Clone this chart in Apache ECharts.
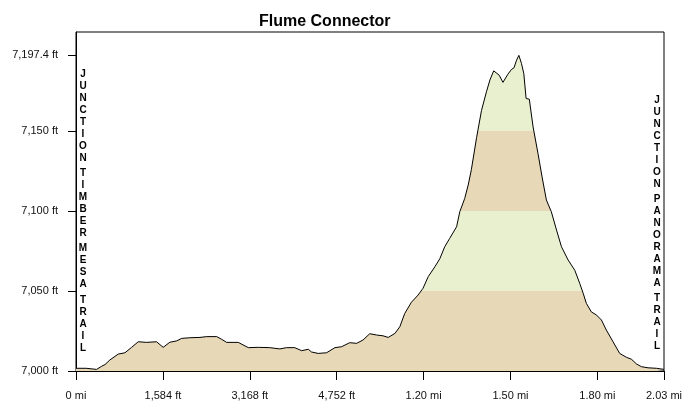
<!DOCTYPE html>
<html><head><meta charset="utf-8">
<script src="https://cdn.jsdelivr.net/npm/echarts@6/dist/echarts.min.js"></script>
<style>html,body{margin:0;padding:0;background:#fff}#c{width:690px;height:406px}</style>
</head><body><div id="c"></div>
<script>
const titleText = 'Flume Connector';
const distanceMi = [0.000,0.035,0.071,0.089,0.100,0.117,0.146,0.169,0.192,0.215,0.244,0.278,0.301,0.324,0.347,0.365,0.393,0.428,0.451,0.486,0.503,0.520,0.560,0.595,0.629,0.669,0.704,0.727,0.755,0.779,0.802,0.813,0.836,0.865,0.894,0.917,0.945,0.969,0.991,1.014,1.038,1.060,1.078,1.101,1.118,1.135,1.158,1.181,1.198,1.216,1.239,1.256,1.273,1.290,1.314,1.325,1.342,1.354,1.365,1.383,1.400,1.417,1.429,1.442,1.461,1.474,1.491,1.503,1.512,1.521,1.529,1.538,1.546,1.554,1.565,1.578,1.595,1.609,1.624,1.641,1.659,1.676,1.699,1.722,1.739,1.751,1.762,1.779,1.797,1.814,1.831,1.854,1.877,1.900,1.918,1.935,1.952,1.975,2.004,2.030];
const elevationFt = [7001.7,7001.7,7001.0,7003.0,7004.0,7006.9,7010.6,7011.4,7014.8,7018.3,7017.9,7018.3,7014.8,7018.0,7018.8,7020.4,7020.8,7021.0,7021.5,7021.5,7019.8,7017.9,7017.9,7014.6,7014.8,7014.6,7013.8,7014.6,7014.6,7012.7,7013.6,7011.9,7011.0,7011.4,7014.6,7015.2,7017.7,7017.3,7019.4,7023.3,7022.5,7022.0,7021.0,7023.5,7027.7,7036.0,7043.0,7047.5,7051.7,7059.0,7065.2,7070.2,7077.7,7082.9,7090.2,7099.6,7107.9,7116.3,7126.0,7146.0,7163.0,7174.6,7182.0,7187.7,7185.0,7180.5,7185.6,7188.5,7189.6,7194.4,7197.4,7192.3,7186.0,7170.4,7170.0,7152.7,7136.0,7121.4,7106.9,7099.6,7088.1,7077.7,7069.4,7063.0,7054.8,7048.6,7042.3,7037.0,7035.0,7031.9,7025.6,7018.3,7011.0,7008.6,7007.3,7004.4,7002.7,7002.0,7001.7,7001.0];
const xTickValues = [0, 0.3, 0.6, 0.9, 1.2, 1.5, 1.8, 2.03];
const xTickLabels = ['0 mi', '1,584 ft', '3,168 ft', '4,752 ft', '1.20 mi', '1.50 mi', '1.80 mi', '2.03 mi'];
const yTickValues = [7000, 7050, 7100, 7150, 7197.4];
const yTickLabels = ['7,000 ft', '7,050 ft', '7,100 ft', '7,150 ft', '7,197.4 ft'];
const bandBreaks = [7000, 7050, 7100, 7150, 7300];
const bandColors = ['#e7d8b8', '#e8f0cf', '#e7d8b8', '#e8f0cf'];
const startLabel = 'JUNCTION TIMBER MESA TRAIL';
const endLabel = 'JUNCTION PANORAMA TRAIL';

const FONT = '"Liberation Sans", Arial, sans-serif';
function lookup(vals, labels, v) {
  for (let i = 0; i < vals.length; i++) if (Math.abs(vals[i] - v) < 1e-6) return labels[i];
  return '';
}
function verticalLabel(label, x, yStart) {
  const out = [];
  let y = yStart;
  label.split(' ').forEach(w => {
    out.push({
      type: 'text', x: x, y: y, silent: true,
      style: {
        text: w.split('').join('\n'),
        font: 'bold 10px ' + FONT,
        lineHeight: 12,
        align: 'center', verticalAlign: 'top',
        textAlign: 'center', textVerticalAlign: 'top',
        fill: '#000'
      }
    });
    y += w.length * 12 + 3.3;
  });
  return out;
}

const chart = echarts.init(document.getElementById('c'), null, {renderer: 'canvas'});
chart.setOption({
  animation: false,
  backgroundColor: '#fff',
  title: {
    text: titleText, left: 254, top: 9,
    textStyle: {fontSize: 16, fontWeight: 'bold', color: '#000', fontFamily: FONT}
  },
  grid: {left: 76, right: 26, top: 32, bottom: 35, show: true, borderColor: '#000', borderWidth: 1, containLabel: false},
  xAxis: {
    type: 'value', min: 0, max: 2.03,
    axisLine: {lineStyle: {color: '#000'}},
    axisTick: {show: true, length: 9, lineStyle: {color: '#000'}, customValues: xTickValues},
    axisLabel: {customValues: xTickValues, margin: 19, fontSize: 11, color: '#111', fontFamily: FONT,
      formatter: v => lookup(xTickValues, xTickLabels, v)},
    splitLine: {show: false}
  },
  yAxis: {
    type: 'value', min: 7000, max: 7212,
    axisLine: {show: true, lineStyle: {color: '#000'}},
    axisTick: {show: true, length: 8, lineStyle: {color: '#000'}, customValues: yTickValues},
    axisLabel: {customValues: yTickValues, margin: 18, fontSize: 11, color: '#111', fontFamily: FONT,
      formatter: v => lookup(yTickValues, yTickLabels, v)},
    splitLine: {show: false}
  },
  visualMap: {
    show: false, type: 'piecewise', dimension: 1, seriesIndex: 0,
    pieces: bandColors.map((c, i) => ({gte: bandBreaks[i], lt: bandBreaks[i + 1], color: c}))
  },
  series: [{
    type: 'line',
    data: distanceMi.map((d, i) => [d, elevationFt[i]]),
    showSymbol: false, symbol: 'none',
    lineStyle: {color: '#000', width: 1},
    areaStyle: {opacity: 1, origin: 'start'},
    silent: true
  }],
  graphic: verticalLabel(startLabel, 83, 68).concat(verticalLabel(endLabel, 657, 94))
});
</script>
</body></html>
